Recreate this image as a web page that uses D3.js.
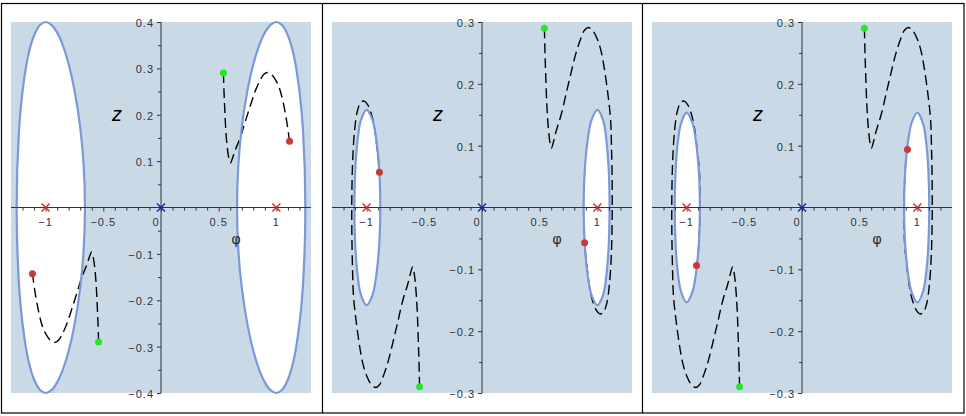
<!DOCTYPE html>
<html>
<head>
<meta charset="utf-8">
<script src="https://d3js.org/d3.v7.min.js"></script>
<style>
  html, body { margin: 0; padding: 0; background: #fff; }
  svg text { font-family: "Liberation Sans", "DejaVu Sans", sans-serif; }
</style>
</head>
<body>
<div id="chart"></div>
<script>
// shared x range of all three panels
var xDomain = [-1.3, 1.3];
var yDomains = [[-0.4, 0.4], [-0.3, 0.3], [-0.3, 0.3]];

var xMajorTicks = [-1, -0.5, 0, 0.5, 1];
var xMinorTicks = [-1.2, -1.1, -0.9, -0.8, -0.7, -0.6, -0.4, -0.3, -0.2, -0.1,
                   0.1, 0.2, 0.3, 0.4, 0.6, 0.7, 0.8, 0.9, 1.1, 1.2];
var yMajorTicks1 = [-0.4, -0.3, -0.2, -0.1, 0.1, 0.2, 0.3, 0.4];
var yMinorTicks1 = [-0.35, -0.25, -0.15, -0.05, 0.05, 0.15, 0.25, 0.35];
var yMajorTicks23 = [-0.3, -0.2, -0.1, 0.1, 0.2, 0.3];
var yMinorTicks23 = [-0.25, -0.15, -0.05, 0.05, 0.15, 0.25];

// upper half of the white region around phi = +1 (mirrored for phi = -1)
var wellProfile1 = [[0.659, 0], [0.67, 0.090], [0.70, 0.173], [0.75, 0.253], [0.80, 0.309],
                    [0.85, 0.349], [0.90, 0.377], [0.95, 0.394], [1.00, 0.400], [1.05, 0.393],
                    [1.10, 0.371], [1.15, 0.329], [1.20, 0.251], [1.23, 0.169], [1.251, 0]];
var wellProfile2 = [[0.881, 0], [0.885, 0.039], [0.89, 0.058], [0.90, 0.083], [0.92, 0.115],
                    [0.95, 0.142], [1.00, 0.158], [1.05, 0.141], [1.08, 0.106], [1.095, 0.072],
                    [1.10, 0.055], [1.106, 0]];
var wellProfile3 = [[0.885, 0], [0.89, 0.044], [0.90, 0.074], [0.92, 0.108], [0.95, 0.137],
                    [1.00, 0.1535], [1.05, 0.135], [1.08, 0.099], [1.095, 0.061], [1.103, 0]];

// dashed trajectory, right branch (left branch is its point reflection)
var trajHead = [[0.541, 0.290], [0.546, 0.250], [0.553, 0.210], [0.562, 0.165], [0.575, 0.128],
                [0.590, 0.104], [0.602, 0.096], [0.615, 0.103], [0.645, 0.125], [0.686, 0.150],
                [0.730, 0.185], [0.772, 0.218], [0.815, 0.250], [0.858, 0.274], [0.890, 0.287],
                [0.922, 0.291], [0.960, 0.286], [1.000, 0.272], [1.032, 0.253], [1.060, 0.225],
                [1.090, 0.185], [1.114, 0.143]];
var trajTail2 = [[1.122, 0.100], [1.128, 0.040], [1.128, -0.020], [1.121, -0.075], [1.104, -0.125],
                 [1.080, -0.156], [1.050, -0.170], [1.020, -0.172], [0.990, -0.166], [0.960, -0.152],
                 [0.935, -0.132], [0.912, -0.100], [0.897, -0.075], [0.889, -0.057]];
var trajTail3 = [[0.885, -0.020], [0.886, 0.020], [0.893, 0.055], [0.903, 0.080], [0.914, 0.094]];

var wellCentres = [-1, 1];

var width = 966, height = 416;
var panelLeft = [1, 322, 642];
var plotW = 300, plotTop = 22, plotBottom = 393;

var svg = d3.select("#chart").append("svg")
    .attr("width", width)
    .attr("height", height);

var line = d3.line().curve(d3.curveCatmullRom.alpha(0.5));
var ring = d3.line().curve(d3.curveCatmullRomClosed.alpha(0.5));

function fmt(d) {
    var s = String(Math.abs(d));
    return d < 0 ? "\u2212" + s : s;
}

function drawPanel(i, profile, yMajor, yMinor, path) {
    var left = panelLeft[i] + 10;
    var x = d3.scaleLinear().domain(xDomain).range([left, left + plotW]);
    var y = d3.scaleLinear().domain(yDomains[i]).range([plotBottom, plotTop]);
    var g = svg.append("g");

    g.append("rect")
        .attr("x", x(xDomain[0])).attr("y", y(yDomains[i][1]))
        .attr("width", x(xDomain[1]) - x(xDomain[0]))
        .attr("height", y(yDomains[i][0]) - y(yDomains[i][1]))
        .attr("fill", "#c9dae6");

    // white regions around the two wells
    var right = profile.concat(profile.slice(1, -1).reverse().map(function (p) { return [p[0], -p[1]]; }));
    var shapes = [right, right.map(function (p) { return [-p[0], -p[1]]; })];
    var ringPath = ring.x(function (d) { return x(d[0]); }).y(function (d) { return y(d[1]); });

    g.selectAll(".well").data(shapes).enter().append("path")
        .attr("class", "well")
        .attr("d", ringPath)
        .attr("fill", "#ffffff");

    // trajectory
    var branches = [path, path.map(function (p) { return [-p[0], -p[1]]; })];
    g.selectAll(".traj").data(branches).enter().append("path")
        .attr("class", "traj")
        .attr("d", line.x(function (d) { return x(d[0]); }).y(function (d) { return y(d[1]); }))
        .attr("fill", "none")
        .attr("stroke", "#000")
        .attr("stroke-width", 1.4)
        .attr("stroke-dasharray", "10,5");

    g.selectAll(".wellEdge").data(shapes).enter().append("path")
        .attr("class", "wellEdge")
        .attr("d", ringPath)
        .attr("fill", "none")
        .attr("stroke", "#7b98d8")
        .attr("stroke-width", 2.2);

    // axes
    var x0 = x(0), y0 = y(0);
    g.append("line").attr("x1", x(xDomain[0])).attr("x2", x(xDomain[1]))
        .attr("y1", y0).attr("y2", y0).attr("stroke", "#333").attr("stroke-width", 1);
    g.append("line").attr("x1", x0).attr("x2", x0)
        .attr("y1", y(yDomains[i][1])).attr("y2", y(yDomains[i][0]))
        .attr("stroke", "#333").attr("stroke-width", 1);

    g.selectAll(".xt").data(xMajorTicks.concat(xMinorTicks)).enter().append("line")
        .attr("x1", function (d) { return x(d) + 0.5; }).attr("x2", function (d) { return x(d) + 0.5; })
        .attr("y1", y0).attr("y2", function (d) { return y0 + (xMajorTicks.indexOf(d) >= 0 ? 4 : 3); })
        .attr("stroke", "#333");
    g.selectAll(".yt").data(yMajor.concat(yMinor)).enter().append("line")
        .attr("y1", function (d) { return y(d) + 0.5; }).attr("y2", function (d) { return y(d) + 0.5; })
        .attr("x1", x0).attr("x2", function (d) { return x0 - (yMajor.indexOf(d) >= 0 ? 4 : 3); })
        .attr("stroke", "#333");

    g.selectAll(".xl").data(xMajorTicks).enter().append("text")
        .attr("x", function (d) { return x(d) - (d === 0 ? 5 : 0); })
        .attr("y", y0 + 18)
        .attr("text-anchor", "middle")
        .attr("font-size", 11)
        .attr("letter-spacing", 1)
        .attr("fill", "#333")
        .text(fmt);
    g.selectAll(".yl").data(yMajor).enter().append("text")
        .attr("x", x0 - 7)
        .attr("y", function (d) { return y(d) + 5; })
        .attr("text-anchor", "end")
        .attr("font-size", 11)
        .attr("letter-spacing", 1)
        .attr("fill", "#333")
        .text(fmt);

    g.append("text").attr("x", left + 106).attr("y", 121)
        .attr("text-anchor", "middle")
        .attr("font-family", "Liberation Serif, serif")
        .attr("font-style", "italic")
        .attr("font-size", 20)
        .text("z");
    g.append("text").attr("x", left + 225).attr("y", 244)
        .attr("text-anchor", "middle")
        .attr("font-family", "Liberation Serif, serif")
        .attr("font-size", 14)
        .attr("fill", "#222")
        .text("\u03c6");

    // fixed points
    function cross(cx, cy, col) {
        g.append("path")
            .attr("d", "M" + (cx - 4) + "," + (cy - 4) + "L" + (cx + 4) + "," + (cy + 4) +
                       "M" + (cx - 4) + "," + (cy + 4) + "L" + (cx + 4) + "," + (cy - 4))
            .attr("stroke", col).attr("stroke-width", 1.4).attr("fill", "none");
    }
    wellCentres.forEach(function (c) { cross(x(c), y0, "#d42a2a"); });
    cross(x0, y0, "#1c1ca8");

    // start and end points
    var starts = branches.map(function (b) { return b[0]; });
    var ends = branches.map(function (b) { return b[b.length - 1]; });
    g.selectAll(".st").data(starts).enter().append("circle")
        .attr("cx", function (d) { return x(d[0]); }).attr("cy", function (d) { return y(d[1]); })
        .attr("r", 3.5).attr("fill", "#28e428");
    g.selectAll(".en").data(ends).enter().append("circle")
        .attr("cx", function (d) { return x(d[0]); }).attr("cy", function (d) { return y(d[1]); })
        .attr("r", 3.5).attr("fill", "#c83a3a");
}

drawPanel(0, wellProfile1, yMajorTicks1, yMinorTicks1, trajHead);
drawPanel(1, wellProfile2, yMajorTicks23, yMinorTicks23, trajHead.concat(trajTail2));
drawPanel(2, wellProfile3, yMajorTicks23, yMinorTicks23, trajHead.concat(trajTail2, trajTail3));

// frame and dividers
svg.append("rect").attr("x", 1.5).attr("y", 3.5).attr("width", 962.5).attr("height", 409.5)
    .attr("fill", "none").attr("stroke", "#000").attr("stroke-width", 1.2);
[322.5, 642.5].forEach(function (xx) {
    svg.append("line").attr("x1", xx).attr("x2", xx).attr("y1", 3.5).attr("y2", 413)
        .attr("stroke", "#000").attr("stroke-width", 1.2);
});
</script>
</body>
</html>
